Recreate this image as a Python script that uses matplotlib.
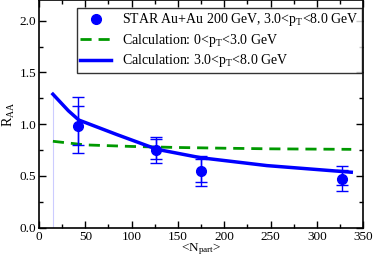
import matplotlib
matplotlib.use('Agg')
import matplotlib.pyplot as plt
from matplotlib.ticker import MultipleLocator

plt.rcParams['font.family'] = ['Liberation Serif', 'DejaVu Serif']
plt.rcParams['mathtext.fontset'] = 'custom'
plt.rcParams['mathtext.rm'] = 'Liberation Serif'
plt.rcParams['mathtext.it'] = 'Liberation Serif'

# STAR data
npart = [42, 126, 175, 327]
raa = [0.985, 0.75, 0.546, 0.47]
sys_lo = [0.72, 0.627, 0.40, 0.35]
sys_hi = [1.26, 0.877, 0.69, 0.595]
stat_lo = [0.80, 0.66, 0.44, 0.416]
stat_hi = [1.18, 0.857, 0.667, 0.56]

# calculation 0<pT<3
calc_lo_x = [15, 50, 100, 150, 200, 250, 337]
calc_lo_y = [0.835, 0.80, 0.785, 0.775, 0.768, 0.762, 0.757]

# calculation 3<pT<8
calc_hi_x = [15, 31.7, 43, 84, 127.5, 174.5, 246, 337]
calc_hi_y = [1.29, 1.13, 1.04, 0.90, 0.757, 0.676, 0.60, 0.536]

fig = plt.figure(figsize=(3.74, 2.59), dpi=100)
ax = fig.add_axes([39/374, 31.3/259, 324.3/374, 227.7/259])

ax.plot([15, 15], [0, 1.29], color='#ccccff', lw=0.8)
ax.plot(calc_lo_x, calc_lo_y, '--', color='#009900', lw=2, dashes=(4, 2.5),
        label=r'Calculation: 0<p$_\mathrm{T}$<3.0 GeV')
ax.plot(calc_hi_x, calc_hi_y, '-', color='#0000ff', lw=2.5,
        label=r'Calculation: 3.0<p$_\mathrm{T}$<8.0 GeV')

err_sys = [[r - l for r, l in zip(raa, sys_lo)], [h - r for r, h in zip(raa, sys_hi)]]
err_stat = [[r - l for r, l in zip(raa, stat_lo)], [h - r for r, h in zip(raa, stat_hi)]]
ax.errorbar(npart, raa, yerr=err_sys, fmt='none', ecolor='#0000ff', elinewidth=1,
            capsize=4, capthick=1)
ax.errorbar(npart, raa, yerr=err_stat, fmt='none', ecolor='#0000ff', elinewidth=1,
            capsize=4, capthick=1)
ax.plot(npart, raa, 'o', color='#0000ff', ms=7, ls='none',
        label=r'STAR Au+Au 200 GeV, 3.0<p$_\mathrm{T}$<8.0 GeV')

ax.set_xlim(0, 350)
ax.set_ylim(0, 2.2)
ax.xaxis.set_major_locator(MultipleLocator(50))
ax.xaxis.set_minor_locator(MultipleLocator(25))
ax.yaxis.set_major_locator(MultipleLocator(0.5))
ax.yaxis.set_minor_locator(MultipleLocator(0.25))
ax.yaxis.set_major_formatter(matplotlib.ticker.FormatStrFormatter('%.1f'))
ax.tick_params(which='both', direction='in', top=True, right=True, labelsize=9.5,
               width=1)
ax.tick_params(axis='x', pad=2.5)
ax.tick_params(axis='y', pad=2)
ax.tick_params(which='major', length=5)
ax.tick_params(which='minor', length=3)
for s in ax.spines.values():
    s.set_linewidth(1.2)

ax.set_xlabel(r'<N$_\mathrm{part}$>', fontsize=9.5, labelpad=-1.5)
ax.set_ylabel(r'R$_\mathrm{AA}$', fontsize=10, labelpad=2)

h, l = ax.get_legend_handles_labels()
order = [2, 0, 1]
leg = ax.legend([h[i] for i in order], [l[i] for i in order], loc='upper right',
                bbox_to_anchor=(0.997, 0.965), fontsize=10, frameon=True, fancybox=False,
                edgecolor='black', borderpad=0.25, handlelength=2.2, labelspacing=0.25,
                handletextpad=0.8, borderaxespad=0)
leg.get_frame().set_linewidth(1)

fig.savefig('out.png', dpi=100)
